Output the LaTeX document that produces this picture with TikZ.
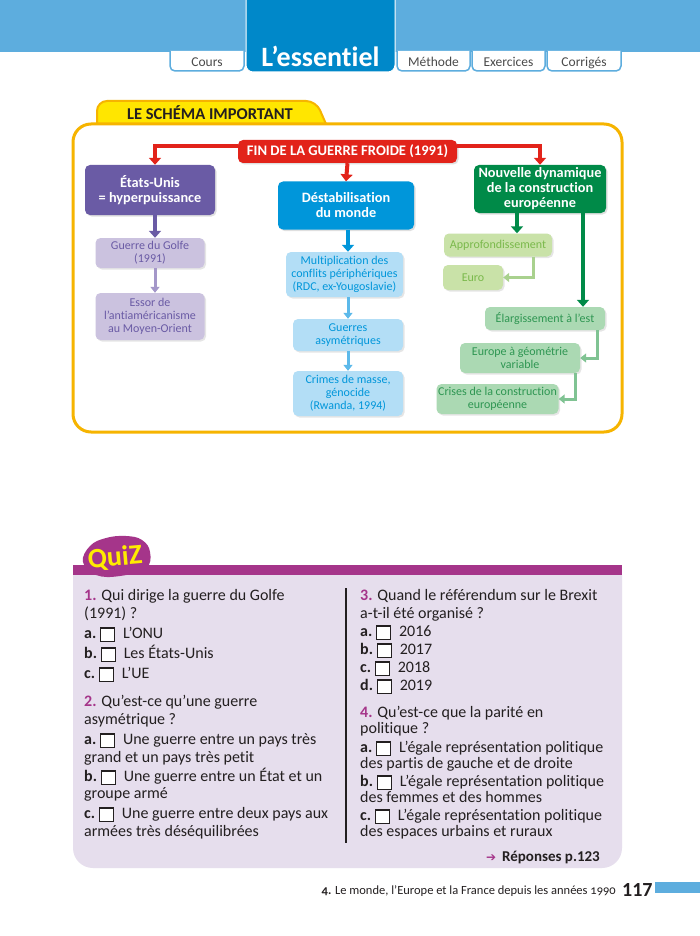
\documentclass[tikz,border=0pt]{standalone}
\usepackage{fontspec}
\setmainfont[Ligatures={NoCommon,NoDiscretionary,NoRare}]{Carlito}
\newfontfamily\djv{DejaVu Sans}
\usetikzlibrary{arrows.meta,shadows,calc}
\definecolor{topblue}{HTML}{5DADDE}
\definecolor{essblue}{HTML}{0088C9}
\definecolor{tabgray}{HTML}{4A4A4A}
\definecolor{gold}{HTML}{F6B400}
\definecolor{tabyellow}{HTML}{FFE600}
\definecolor{fred}{HTML}{E2231A}
\definecolor{purp}{HTML}{6A5BA5}
\definecolor{purpl}{HTML}{CBC2DF}
\definecolor{purpa}{HTML}{A497C9}
\definecolor{bluem}{HTML}{0096DA}
\definecolor{bluel}{HTML}{B3DEF6}
\definecolor{bluea}{HTML}{5CB9EA}
\definecolor{greend}{HTML}{008A48}
\definecolor{limel}{HTML}{C9E2A8}
\definecolor{limet}{HTML}{7AB94B}
\definecolor{limea}{HTML}{A9D18E}
\definecolor{mintl}{HTML}{ABD9B3}
\definecolor{mintt}{HTML}{2E9652}
\definecolor{minta}{HTML}{80C393}
\definecolor{quizp}{HTML}{A5358A}
\definecolor{quizbg}{HTML}{E6DEED}
\definecolor{ink}{HTML}{231F20}
\definecolor{quizy}{HTML}{FFEC00}
\newcommand\cbox{\raisebox{-3pt}{\setlength{\fboxsep}{0pt}\setlength{\fboxrule}{1.1pt}\fcolorbox{ink}{white}{\rule{0pt}{12.5pt}\rule{12.5pt}{0pt}}}}
\newcommand\qn[1]{\textcolor{quizp}{\bfseries #1}}
\newcommand\ql[1]{{\bfseries #1}\hspace{4pt}\cbox\hspace{8pt}}
\begin{document}
\begin{tikzpicture}[x=1pt,y=-1pt,
  every node/.style={inner sep=0pt},
  dbox/.style={rounded corners=5pt, align=center, text=white,
    font=\bfseries\fontsize{14.3}{15}\selectfont,
    drop shadow={opacity=0.25,shadow xshift=1.5pt,shadow yshift=-1.5pt}},
  lbox/.style={rounded corners=5pt, align=center,
    font=\fontsize{12}{13}\selectfont,
    drop shadow={opacity=0.2,shadow xshift=1.5pt,shadow yshift=-1.5pt}},
  tabtxt/.style={anchor=base, text=tabgray, font=\fontsize{13.5}{14}\selectfont},
  tabline/.style={draw=topblue, line width=1.5pt, fill=white, rounded corners=5pt},
  bigarr/.style={line width=4pt, -{Triangle[width=12pt,length=7pt]}},
  smallarr/.style={line width=3pt, -{Triangle[width=9pt,length=6pt]}},
  qtxt/.style={anchor=base west, text=ink, font=\fontsize{16}{18}\selectfont}
]
\useasboundingbox (0,0) rectangle (700,936);
\fill[white] (0,0) rectangle (700,936);

% ---------- header ----------
\fill[topblue] (0,0) rectangle (700,52);
\path[tabline] (170,51) -- (170,71) -- (244,71) -- (244,51);
\path[tabline] (397,51) -- (397,71) -- (470,71) -- (470,51);
\path[tabline] (472,51) -- (472,71) -- (545,71) -- (545,51);
\path[tabline] (547,51) -- (547,71) -- (621,71) -- (621,51);
\filldraw[fill=essblue, draw=white, line width=1pt, rounded corners=7pt] (246,-10) -- (246,72) -- (395,72) -- (395,-10) -- cycle;
\node[tabtxt] (tcours) at (207,67) {Cours};
\node[tabtxt] (tmeth) at (433.5,67) {Méthode};
\node[tabtxt] (texer) at (508.5,67) {Exercices};
\node[tabtxt] (tcorr) at (584,67) {Corrigés};
\node[text=white, font=\bfseries\fontsize{28}{28}\selectfont] (tess) at (320.5,56) {L’essentiel};

% ---------- schema frame ----------
\filldraw[fill=tabyellow, draw=gold, line width=2pt, rounded corners=10pt] (97,124) -- (97,101) -- (316,101) -- (326,124);
\node[text=ink, font=\bfseries\fontsize{16.5}{17}\selectfont] (stitle) at (210,113) {LE SCHÉMA IMPORTANT};
\draw[gold, line width=3pt, rounded corners=18pt] (73,124) rectangle (622,432);

% ---------- diagram nodes ----------
\node[dbox, fill=fred, minimum width=219pt, minimum height=23pt,
  font=\bfseries\fontsize{14.6}{15}\selectfont] (red) at (347.5,151.5) {FIN DE LA GUERRE FROIDE (1991)};

\node[dbox, fill=purp, minimum width=130pt, minimum height=50pt] (pur) at (150,190) {États-Unis\\= hyperpuissance};
\node[lbox, fill=purpl, text=purp, minimum width=109pt, minimum height=30pt] (golfe) at (150,253) {Guerre du Golfe\\(1991)};
\node[lbox, fill=purpl, text=purp, minimum width=109pt, minimum height=47pt] (essor) at (150,316.5) {Essor de\\l’antiaméricanisme\\au Moyen-Orient};

\node[dbox, fill=bluem, minimum width=136pt, minimum height=48pt] (dest) at (346,205.5) {Déstabilisation\\du monde};
\node[lbox, fill=bluel, text=bluem, minimum width=117pt, minimum height=45pt] (multi) at (344.5,274.5) {Multiplication des\\conflits périphériques\\(RDC, ex-Yougoslavie)};
\node[lbox, fill=bluel, text=bluem, minimum width=110pt, minimum height=32pt] (asym) at (348,335) {Guerres\\asymétriques};
\node[lbox, fill=bluel, text=bluem, minimum width=110pt, minimum height=45pt] (crimes) at (348,393.5) {Crimes de masse,\\génocide\\(Rwanda, 1994)};

\node[dbox, fill=greend, minimum width=132pt, minimum height=48pt] (green) at (540,189) {Nouvelle dynamique\\de la construction\\européenne};
\node[lbox, fill=limel, text=limet, minimum width=108pt, minimum height=23pt] (appro) at (498,245) {Approfondissement};
\node[lbox, fill=limel, text=limet, minimum width=60pt, minimum height=25pt] (euro) at (473,277.5) {Euro};
\node[lbox, fill=mintl, text=mintt, minimum width=120pt, minimum height=23pt] (elarg) at (545,318.5) {Élargissement à l’est};
\node[lbox, fill=mintl, text=mintt, minimum width=120pt, minimum height=30pt] (europe) at (520,358) {Europe à géométrie\\variable};
\node[lbox, fill=mintl, text=mintt, minimum width=122pt, minimum height=30pt] (crises) at (497.5,399) {Crises de la construction\\européenne};

% ---------- connectors ----------
\draw[fred, bigarr] ($(red.west)+(0,-5)$) -| ($(pur.north)+(5,0)$);
\draw[fred, bigarr] ($(red.east)+(0,-5)$) -| (green.north);
\draw[fred, bigarr] (red.south) -- (dest.north);

\draw[purp, bigarr] ($(pur.south)+(5,0)$) -- ($(golfe.north)+(5,0)$);
\draw[purpa, smallarr] ($(golfe.south)+(5,0)$) -- ($(essor.north)+(5,0)$);

\draw[bluem, bigarr] ($(dest.south)+(2,0)$) -- ($(multi.north)+(3.5,0)$);
\draw[bluea, smallarr] ($(multi.south)+(3.5,0)$) -- (asym.north);
\draw[bluea, smallarr] (asym.south) -- (crimes.north);

\draw[greend, bigarr] ($(green.south)+(-23,0)$) -- ($(appro.north)+(19,0)$);
\draw[greend, bigarr] ($(green.south)+(43,0)$) -- ($(elarg.north)+(38,0)$);
\draw[limea, smallarr] ($(appro.south)+(35,0)$) |- (euro.east);
\draw[minta, smallarr] ($(elarg.south)+(52,0)$) |- (europe.east);
\draw[minta, smallarr] ($(europe.south)+(55,0)$) |- (crises.east);

% ---------- quiz ----------
\fill[quizbg, rounded corners=20pt] (73,575) -- (73,868) -- (622,868) -- (622,575);
\fill[quizp] (73,565) rectangle (622,575);
\fill[quizp] plot[smooth cycle, tension=0.7] coordinates {(83,562) (90,546) (106,538) (126,536) (142,540) (150,552) (146,568) (120,576) (96,575)};
\node[text=quizy, rotate=5, font=\bfseries\fontsize{28}{28}\selectfont] (qlogo) at (115,558) {QuiZ};
\draw[ink, line width=1.2pt] (346,588) -- (346,843);

\node[qtxt] (l1) at (84,600) {\qn{1.} Qui dirige la guerre du Golfe};
\node[qtxt] (l2) at (84,618) {(1991) ?};
\node[qtxt] (l3) at (84,638) {\ql{a.}L’ONU};
\node[qtxt] (l4) at (84,658) {\ql{b.}Les États-Unis};
\node[qtxt] (l5) at (84,678) {\ql{c.}L’UE};
\node[qtxt] (l6) at (84,706) {\qn{2.} Qu’est-ce qu’une guerre};
\node[qtxt] (l7) at (84,724) {asymétrique ?};
\node[qtxt] (l8) at (84,744) {\ql{a.}Une guerre entre un pays très};
\node[qtxt] (l9) at (84,762) {grand et un pays très petit};
\node[qtxt] (l10) at (84,781) {\ql{b.}Une guerre entre un État et un};
\node[qtxt] (l11) at (84,798) {groupe armé};
\node[qtxt] (l12) at (84,818) {\ql{c.}Une guerre entre deux pays aux};
\node[qtxt] (l13) at (84,836) {armées très déséquilibrées};

\node[qtxt] (r1) at (360,600) {\qn{3.} Quand le référendum sur le Brexit};
\node[qtxt] (r2) at (360,618) {a-t-il été organisé ?};
\node[qtxt] (r3) at (360,636) {\ql{a.}2016};
\node[qtxt] (r4) at (360,654) {\ql{b.}2017};
\node[qtxt] (r5) at (360,672) {\ql{c.}2018};
\node[qtxt] (r6) at (360,690) {\ql{d.}2019};
\node[qtxt] (r7) at (360,717) {\qn{4.} Qu’est-ce que la parité en};
\node[qtxt] (r8) at (360,733) {politique ?};
\node[qtxt] (r9) at (360,752) {\ql{a.}L’égale représentation politique};
\node[qtxt] (r10) at (360,768) {des partis de gauche et de droite};
\node[qtxt] (r11) at (360,786) {\ql{b.}L’égale représentation politique};
\node[qtxt] (r12) at (360,802) {des femmes et des hommes};
\node[qtxt] (r13) at (360,820) {\ql{c.}L’égale représentation politique};
\node[qtxt] (r14) at (360,836) {des espaces urbains et ruraux};
\node[anchor=base east, text=ink, font=\bfseries\fontsize{15}{16}\selectfont] (rep) at (600,861) {\textcolor{quizp}{\djv\fontsize{12}{12}\selectfont ➔}\hspace{6pt}Réponses p.123};

% ---------- footer ----------
\node[anchor=base east, text=ink, font=\fontsize{12.5}{13}\selectfont\addfontfeatures{Numbers=OldStyle}] (foot) at (616,894) {{\bfseries 4.} Le monde, l’Europe et la France depuis les années 1990};
\node[anchor=base west, text=ink, font=\bfseries\fontsize{20}{20}\selectfont] (pnum) at (622,896) {117};
\fill[topblue] (655,882) rectangle (700,893);
\end{tikzpicture}
\end{document}
